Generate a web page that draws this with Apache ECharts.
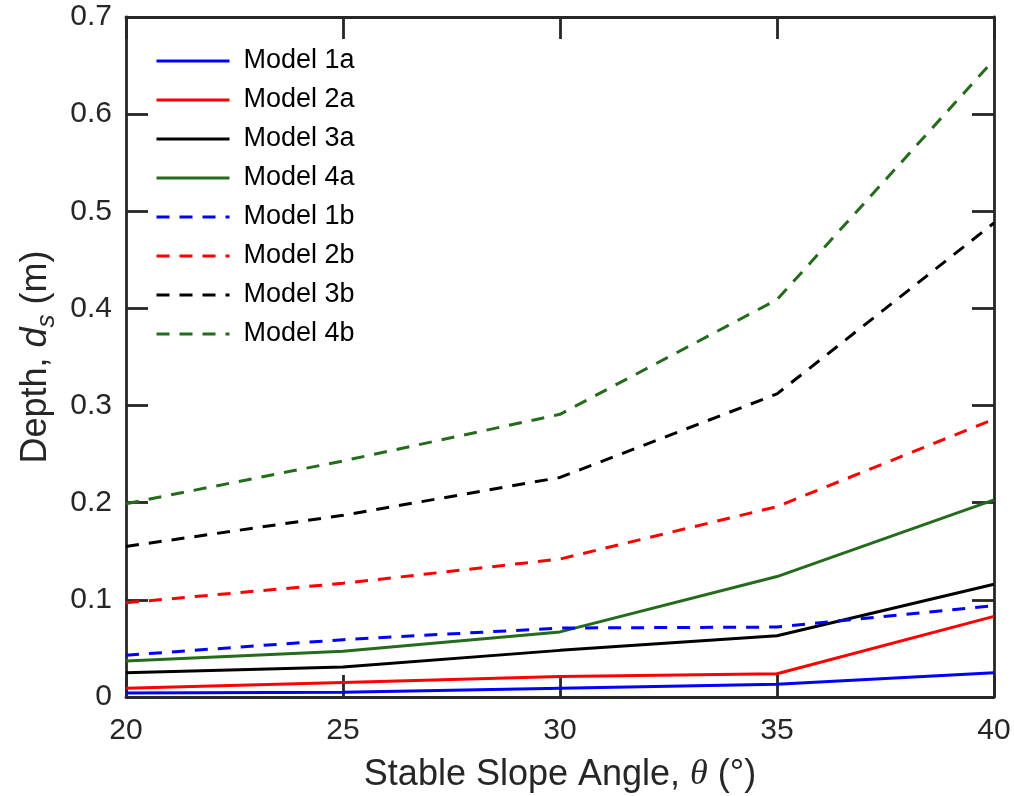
<!DOCTYPE html>
<html>
<head>
<meta charset="utf-8">
<script src="https://cdn.jsdelivr.net/npm/echarts@6/dist/echarts.min.js"></script>
<style>
  html, body { margin: 0; padding: 0; background: #ffffff; }
  #chart { width: 1014px; height: 796px; }
</style>
</head>
<body>
<div id="chart"></div>
<script>
// Stable slope angle (degrees)
const angles = [20, 25, 30, 35, 40];

// Depth d_s (m) for each model
const model1a = [0.004, 0.005, 0.009, 0.013, 0.025];
const model2a = [0.009, 0.015, 0.021, 0.024, 0.083];
const model3a = [0.025, 0.031, 0.048, 0.063, 0.116];
const model4a = [0.037, 0.047, 0.067, 0.124, 0.203];
const model1b = [0.043, 0.059, 0.071, 0.072, 0.094];
const model2b = [0.097, 0.117, 0.142, 0.196, 0.286];
const model3b = [0.155, 0.187, 0.226, 0.312, 0.488];
const model4b = [0.199, 0.243, 0.291, 0.409, 0.656];

const seriesNames = ['Model 1a', 'Model 2a', 'Model 3a', 'Model 4a',
                     'Model 1b', 'Model 2b', 'Model 3b', 'Model 4b'];
const seriesValues = [model1a, model2a, model3a, model4a,
                      model1b, model2b, model3b, model4b];
const seriesColors = ['#0000ff', '#ff0000', '#000000', '#246b1c',
                      '#0000ff', '#ff0000', '#000000', '#246b1c'];
const seriesDashed = [false, false, false, false, true, true, true, true];

const yTickLabels = ['0', '0.1', '0.2', '0.3', '0.4', '0.5', '0.6', '0.7'];
const xTickLabels = ['20', '25', '30', '35', '40'];

const FONT = '"Liberation Sans", Arial, Helvetica, sans-serif';
const AXIS_COLOR = '#262626';

const chart = echarts.init(document.getElementById('chart'), null, { renderer: 'canvas' });

const lineAxis = { show: true, onZero: false, lineStyle: { color: AXIS_COLOR, width: 2.8 } };
const tickInside = { show: true, inside: true, length: 22, lineStyle: { color: AXIS_COLOR, width: 2.8 } };

const series = seriesNames.map((name, i) => ({
  name: name,
  type: 'line',
  xAxisIndex: 0,
  yAxisIndex: 0,
  symbol: 'none',
  showSymbol: false,
  data: angles.map((a, j) => [a, seriesValues[i][j]]),
  lineStyle: {
    color: seriesColors[i],
    width: 3,
    type: seriesDashed[i] ? [13, 10] : 'solid'
  },
  itemStyle: { color: seriesColors[i] },
  emphasis: { disabled: true }
}));

const option = {
  animation: false,
  backgroundColor: '#ffffff',
  grid: {
    left: 126, right: 20, top: 17, bottom: 99,
    containLabel: false,
    outerBoundsMode: 'none'
  },
  legend: {
    orient: 'vertical',
    left: 150,
    top: 41,
    itemWidth: 73,
    itemHeight: 14,
    itemGap: 9,
    data: seriesNames,
    itemStyle: { opacity: 0 },
    lineStyle: { width: 3 },
    textStyle: {
      fontFamily: FONT,
      fontSize: 27,
      color: '#000000',
      lineHeight: 30,
      padding: [0, 0, 0, 9]
    }
  },
  xAxis: [
    {
      type: 'value',
      position: 'bottom',
      min: 20, max: 40, interval: 5,
      axisLine: lineAxis,
      axisTick: tickInside,
      splitLine: { show: false },
      axisLabel: {
        show: true,
        margin: 19,
        color: AXIS_COLOR,
        fontFamily: FONT,
        fontSize: 30,
        formatter: (v) => xTickLabels[angles.indexOf(v)] ?? ''
      },
      name: '{a|Stable Slope Angle, }{t|θ}{a| (°)}',
      nameLocation: 'middle',
      nameGap: 60,
      nameTextStyle: {
        rich: {
          a: { fontFamily: FONT, fontSize: 36, color: AXIS_COLOR },
          t: { fontFamily: '"Liberation Serif", "DejaVu Serif", serif', fontStyle: 'italic', fontSize: 36, color: AXIS_COLOR }
        }
      }
    },
    {
      type: 'value',
      position: 'top',
      min: 20, max: 40, interval: 5,
      axisLine: lineAxis,
      axisTick: tickInside,
      axisLabel: { show: false },
      splitLine: { show: false }
    }
  ],
  yAxis: [
    {
      type: 'value',
      position: 'left',
      min: 0, max: 0.7, interval: 0.1,
      axisLine: lineAxis,
      axisTick: tickInside,
      splitLine: { show: false },
      axisLabel: {
        show: true,
        margin: 14,
        color: AXIS_COLOR,
        fontFamily: FONT,
        fontSize: 30,
        formatter: (v) => yTickLabels[Math.round(v * 10)] ?? ''
      },
      name: '{a|Depth, }{d|d}{s|s}{a| (m)}',
      nameLocation: 'middle',
      nameRotate: 90,
      nameGap: 66,
      nameTextStyle: {
        rich: {
          a: { fontFamily: FONT, fontSize: 36, color: AXIS_COLOR, lineHeight: 46 },
          d: { fontFamily: FONT, fontStyle: 'italic', fontSize: 36, color: AXIS_COLOR, lineHeight: 46 },
          s: { fontFamily: FONT, fontStyle: 'italic', fontSize: 26, color: AXIS_COLOR, lineHeight: 28, verticalAlign: 'bottom' }
        }
      }
    },
    {
      type: 'value',
      position: 'right',
      min: 0, max: 0.7, interval: 0.1,
      axisLine: lineAxis,
      axisTick: tickInside,
      axisLabel: { show: false },
      splitLine: { show: false }
    }
  ],
  series: series
};

chart.setOption(option);
</script>
</body>
</html>
